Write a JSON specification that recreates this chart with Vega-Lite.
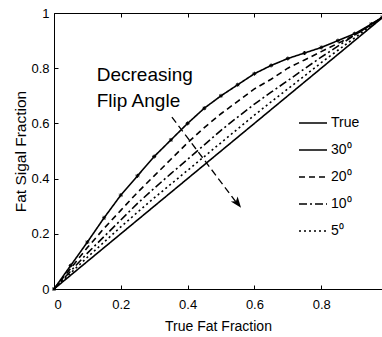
{
  "$schema": "https://vega.github.io/schema/vega-lite/v6.json",
  "autosize": {"type": "none"},
  "width": 328,
  "height": 276,
  "padding": {"left": 54, "top": 13, "right": 0, "bottom": 48},
  "background": "white",
  "config": {
    "view": {"stroke": null},
    "font": "Liberation Sans",
    "axis": {
      "domainColor": "black", "tickColor": "black", "labelColor": "black", "titleColor": "black",
      "labelFont": "Liberation Sans", "titleFont": "Liberation Sans", "grid": false,
      "labelFontSize": 13, "titleFontWeight": "normal", "domainWidth": 1, "tickWidth": 1
    },
    "legend": {
      "labelFont": "Liberation Sans", "labelFontSize": 14, "labelColor": "black"
    }
  },
  "datasets": {
    "curves": [
      {"x": 0, "y": 0, "series": "True"},
      {"x": 0.982, "y": 0.982, "series": "True"},
      {"x": 0, "y": 0, "series": "30⁰"},
      {"x": 0.05, "y": 0.085, "series": "30⁰"},
      {"x": 0.1, "y": 0.17, "series": "30⁰"},
      {"x": 0.15, "y": 0.258, "series": "30⁰"},
      {"x": 0.2, "y": 0.34, "series": "30⁰"},
      {"x": 0.25, "y": 0.41, "series": "30⁰"},
      {"x": 0.3, "y": 0.48, "series": "30⁰"},
      {"x": 0.35, "y": 0.54, "series": "30⁰"},
      {"x": 0.4, "y": 0.6, "series": "30⁰"},
      {"x": 0.45, "y": 0.655, "series": "30⁰"},
      {"x": 0.5, "y": 0.7, "series": "30⁰"},
      {"x": 0.55, "y": 0.74, "series": "30⁰"},
      {"x": 0.6, "y": 0.78, "series": "30⁰"},
      {"x": 0.65, "y": 0.81, "series": "30⁰"},
      {"x": 0.7, "y": 0.835, "series": "30⁰"},
      {"x": 0.75, "y": 0.855, "series": "30⁰"},
      {"x": 0.8, "y": 0.875, "series": "30⁰"},
      {"x": 0.85, "y": 0.9, "series": "30⁰"},
      {"x": 0.9, "y": 0.925, "series": "30⁰"},
      {"x": 0.95, "y": 0.96, "series": "30⁰"},
      {"x": 0.982, "y": 0.984, "series": "30⁰"},
      {"x": 0, "y": 0, "series": "20⁰"},
      {"x": 0.05, "y": 0.075, "series": "20⁰"},
      {"x": 0.1, "y": 0.15, "series": "20⁰"},
      {"x": 0.15, "y": 0.22, "series": "20⁰"},
      {"x": 0.2, "y": 0.285, "series": "20⁰"},
      {"x": 0.25, "y": 0.35, "series": "20⁰"},
      {"x": 0.3, "y": 0.41, "series": "20⁰"},
      {"x": 0.35, "y": 0.47, "series": "20⁰"},
      {"x": 0.4, "y": 0.53, "series": "20⁰"},
      {"x": 0.45, "y": 0.585, "series": "20⁰"},
      {"x": 0.5, "y": 0.635, "series": "20⁰"},
      {"x": 0.55, "y": 0.68, "series": "20⁰"},
      {"x": 0.6, "y": 0.725, "series": "20⁰"},
      {"x": 0.65, "y": 0.76, "series": "20⁰"},
      {"x": 0.7, "y": 0.8, "series": "20⁰"},
      {"x": 0.75, "y": 0.83, "series": "20⁰"},
      {"x": 0.8, "y": 0.86, "series": "20⁰"},
      {"x": 0.85, "y": 0.89, "series": "20⁰"},
      {"x": 0.9, "y": 0.92, "series": "20⁰"},
      {"x": 0.95, "y": 0.958, "series": "20⁰"},
      {"x": 0.982, "y": 0.983, "series": "20⁰"},
      {"x": 0, "y": 0, "series": "10⁰"},
      {"x": 0.05, "y": 0.065, "series": "10⁰"},
      {"x": 0.1, "y": 0.13, "series": "10⁰"},
      {"x": 0.15, "y": 0.19, "series": "10⁰"},
      {"x": 0.2, "y": 0.25, "series": "10⁰"},
      {"x": 0.25, "y": 0.31, "series": "10⁰"},
      {"x": 0.3, "y": 0.365, "series": "10⁰"},
      {"x": 0.35, "y": 0.418, "series": "10⁰"},
      {"x": 0.4, "y": 0.47, "series": "10⁰"},
      {"x": 0.45, "y": 0.522, "series": "10⁰"},
      {"x": 0.5, "y": 0.575, "series": "10⁰"},
      {"x": 0.55, "y": 0.623, "series": "10⁰"},
      {"x": 0.6, "y": 0.67, "series": "10⁰"},
      {"x": 0.65, "y": 0.713, "series": "10⁰"},
      {"x": 0.7, "y": 0.755, "series": "10⁰"},
      {"x": 0.75, "y": 0.798, "series": "10⁰"},
      {"x": 0.8, "y": 0.84, "series": "10⁰"},
      {"x": 0.85, "y": 0.88, "series": "10⁰"},
      {"x": 0.9, "y": 0.92, "series": "10⁰"},
      {"x": 0.95, "y": 0.958, "series": "10⁰"},
      {"x": 0.982, "y": 0.983, "series": "10⁰"},
      {"x": 0, "y": 0, "series": "5⁰"},
      {"x": 0.05, "y": 0.058, "series": "5⁰"},
      {"x": 0.1, "y": 0.115, "series": "5⁰"},
      {"x": 0.15, "y": 0.17, "series": "5⁰"},
      {"x": 0.2, "y": 0.225, "series": "5⁰"},
      {"x": 0.25, "y": 0.278, "series": "5⁰"},
      {"x": 0.3, "y": 0.33, "series": "5⁰"},
      {"x": 0.35, "y": 0.38, "series": "5⁰"},
      {"x": 0.4, "y": 0.43, "series": "5⁰"},
      {"x": 0.45, "y": 0.48, "series": "5⁰"},
      {"x": 0.5, "y": 0.53, "series": "5⁰"},
      {"x": 0.55, "y": 0.58, "series": "5⁰"},
      {"x": 0.6, "y": 0.63, "series": "5⁰"},
      {"x": 0.65, "y": 0.678, "series": "5⁰"},
      {"x": 0.7, "y": 0.725, "series": "5⁰"},
      {"x": 0.75, "y": 0.772, "series": "5⁰"},
      {"x": 0.8, "y": 0.82, "series": "5⁰"},
      {"x": 0.85, "y": 0.865, "series": "5⁰"},
      {"x": 0.9, "y": 0.91, "series": "5⁰"},
      {"x": 0.95, "y": 0.955, "series": "5⁰"},
      {"x": 0.982, "y": 0.983, "series": "5⁰"}
    ],
    "notes": [
      {"x": 0.128, "y": 0.755, "text": "Decreasing"},
      {"x": 0.128, "y": 0.658, "text": "Flip Angle"}
    ],
    "arrow": [
      {"x": 0.353, "y": 0.623},
      {"x": 0.55, "y": 0.307}
    ],
    "arrowhead": [
      {"x": 0.56, "y": 0.294}
    ]
  },
  "layer": [
    {
      "data": {"name": "curves"},
      "mark": {"type": "line", "color": "black", "strokeWidth": 1.6},
      "encoding": {
        "x": {"field": "x", "type": "quantitative", "scale": {"domain": [0, 0.982], "nice": false},
              "axis": {"orient": "bottom", "values": [0, 0.2, 0.4, 0.6, 0.8], "format": "~g", "tickSize": -4, "labelPadding": 13, "title": "True Fat Fraction", "titleFontSize": 14, "titlePadding": 8}},
        "y": {"field": "y", "type": "quantitative", "scale": {"domain": [0, 1], "nice": false},
              "axis": {"orient": "left", "values": [0, 0.2, 0.4, 0.6, 0.8, 1], "format": "~g", "tickSize": -4, "labelPadding": 9, "title": "Fat Sigal Fraction", "titleFontSize": 15.5, "titlePadding": 2}},
        "strokeDash": {"field": "series", "type": "nominal",
          "scale": {"domain": ["True", "30⁰", "20⁰", "10⁰", "5⁰"], "range": [[1, 0], [1, 0], [6, 4], [8, 3, 2, 3], [2, 3]]},
          "legend": {"orient": "none", "legendX": 244, "legendY": 95, "title": null, "symbolType": "stroke", "symbolSize": 784, "symbolStrokeColor": "black", "symbolStrokeWidth": 1.5, "rowPadding": 5, "labelOffset": 3}},
        "detail": {"field": "series"}
      }
    },
    {
      "data": {"name": "curves"},
      "transform": [{"filter": "datum.series === '30⁰'"}],
      "mark": {"type": "point", "shape": "M-1,0L1,0M0,-1L0,1M-0.7,-0.7L0.7,0.7M-0.7,0.7L0.7,-0.7", "filled": false, "color": "black", "size": 16, "strokeWidth": 1, "opacity": 1},
      "encoding": {
        "x": {"field": "x", "type": "quantitative", "axis": {"orient": "top", "values": [0, 0.2, 0.4, 0.6, 0.8], "labels": false, "title": null, "tickSize": -4}},
        "y": {"field": "y", "type": "quantitative"}
      }
    },
    {
      "data": {"name": "notes"},
      "mark": {"type": "text", "align": "left", "baseline": "alphabetic", "fontSize": 19, "font": "Liberation Sans", "color": "black"},
      "encoding": {
        "x": {"field": "x", "type": "quantitative", "axis": null},
        "y": {"field": "y", "type": "quantitative"},
        "text": {"field": "text"}
      }
    },
    {
      "data": {"name": "arrow"},
      "mark": {"type": "line", "color": "black", "strokeWidth": 1.3, "strokeDash": [7, 4]},
      "encoding": {
        "x": {"field": "x", "type": "quantitative", "axis": null},
        "y": {"field": "y", "type": "quantitative"}
      }
    },
    {
      "data": {"name": "arrowhead"},
      "mark": {"type": "point", "shape": "M0,0L-0.38,1L0,0.75L0.38,1Z", "filled": true, "color": "black", "size": 500, "angle": 142.5, "opacity": 1},
      "encoding": {
        "x": {"field": "x", "type": "quantitative", "axis": null},
        "y": {"field": "y", "type": "quantitative"}
      }
    }
  ],
  "resolve": {"axis": {"x": "independent"}}
}
